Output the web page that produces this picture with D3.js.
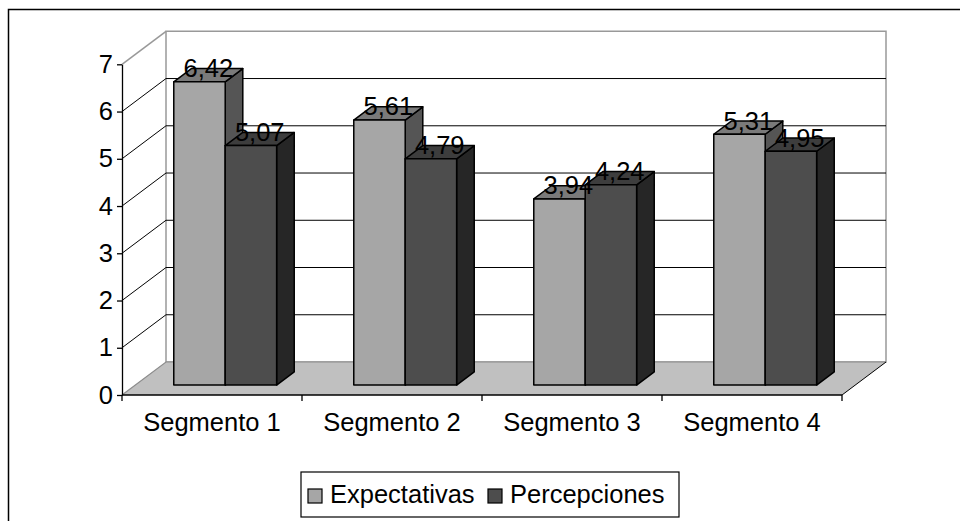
<!DOCTYPE html>
<html>
<head>
<meta charset="utf-8">
<script src="https://cdn.jsdelivr.net/npm/d3@7"></script>
<style>
  html, body { margin: 0; padding: 0; background: #fff; }
  svg text { font-family: "Liberation Sans", Arial, sans-serif; fill: #000; }
</style>
</head>
<body>
<svg id="chart" width="960" height="521"></svg>
<script>
// Chart data
const categories = ["Segmento 1", "Segmento 2", "Segmento 3", "Segmento 4"];
const seriesNames = ["Expectativas", "Percepciones"];
const expectativas = [6.42, 5.61, 3.94, 5.31];
const percepciones = [5.07, 4.79, 4.24, 4.95];
const yTicks = [0, 1, 2, 3, 4, 5, 6, 7];

const seriesValues = [expectativas, percepciones];
const fmt = v => d3.format(".2f")(v).replace(".", ",");
const fontSize = 25.5;

// Face colours per series: front, top, side
const faceColors = [
  { front: "#a6a6a6", top: "#7a7a7a", side: "#555555" },
  { front: "#4d4d4d", top: "#3d3d3d", side: "#262626" }
];

const svg = d3.select("#chart");

// Front plane of the plot and the depth vector of the 3D box
const x0 = 122, x1 = 842;
const y = d3.scaleLinear().domain([0, 7]).range([395, 64.3]);
const depth = { dx: 44, dy: -33 };
const barDepth = [0.3, 0.7];

const xCat = d3.scaleBand().domain(categories).range([x0, x1]).padding(0);
const xSeries = d3.scaleBand().domain(seriesNames)
  .range([0, xCat.bandwidth()]).paddingInner(0).paddingOuter(0.75);

// Project (screen x on front plane, value, depth fraction) to screen coords
const P = (x, v, d) => [x + d * depth.dx, y(v) + d * depth.dy];
const poly = pts => "M" + pts.map(p => p.join(",")).join("L") + "Z";

// Outer chart frame
svg.append("rect")
  .attr("x", 8.5).attr("y", 9.5).attr("width", 1000).attr("height", 600)
  .attr("fill", "none").attr("stroke", "#000").attr("stroke-width", 1.5);

const vMax = 7;
// Back wall
svg.append("path")
  .attr("d", poly([P(x0, 0, 1), P(x1, 0, 1), P(x1, vMax, 1), P(x0, vMax, 1)]))
  .attr("fill", "#fff").attr("stroke", "#999").attr("stroke-width", 1.5);

// Floor
svg.append("path")
  .attr("d", poly([P(x0, 0, 0), P(x1, 0, 0), P(x1, 0, 1), P(x0, 0, 1)]))
  .attr("fill", "#c0c0c0").attr("stroke", "none");
svg.append("path")
  .attr("d", "M" + P(x0, 0, 0) + "L" + P(x0, 0, 1) + "L" + P(x1, 0, 1))
  .attr("fill", "none").attr("stroke", "#8c8c8c").attr("stroke-width", 1.2);
svg.append("path")
  .attr("d", "M" + P(x1, 0, 0) + "L" + P(x1, 0, 1))
  .attr("fill", "none").attr("stroke", "#000").attr("stroke-width", 1);

// Gridlines on the left wall and the back wall
const grid = svg.append("g").attr("fill", "none");
yTicks.filter(t => t > 0 && t < vMax).forEach(t => {
  grid.append("path")
    .attr("d", "M" + P(x0, t, 0) + "L" + P(x0, t, 1) + "L" + P(x1, t, 1))
    .attr("stroke", "#000").attr("stroke-width", 1);
});
// Top edge of the left wall
svg.append("path")
  .attr("d", "M" + P(x0, vMax, 0) + "L" + P(x0, vMax, 1))
  .attr("fill", "none").attr("stroke", "#999").attr("stroke-width", 1.5);

// Value axis
const yAxis = svg.append("g")
  .attr("transform", `translate(${x0},0)`)
  .call(d3.axisLeft(y).tickValues(yTicks).tickFormat(d3.format("d"))
    .tickSize(5).tickSizeOuter(0).tickPadding(4));
yAxis.select(".domain").attr("stroke", "#000").attr("stroke-width", 1.3);
yAxis.selectAll(".tick line").attr("stroke", "#000").attr("stroke-width", 1.3);
yAxis.selectAll(".tick text")
  .attr("font-size", fontSize).attr("font-family", "Liberation Sans, Arial, sans-serif")
  .attr("fill", "#000");

// Category axis: baseline, boundary ticks, labels
const catAxis = svg.append("g");
catAxis.append("line")
  .attr("x1", x0).attr("x2", x1).attr("y1", y(0)).attr("y2", y(0))
  .attr("stroke", "#000").attr("stroke-width", 1.5);
const boundaries = categories.map(c => xCat(c)).concat([x1]);
catAxis.selectAll("line.tick").data(boundaries).join("line")
  .attr("class", "tick")
  .attr("x1", d => d).attr("x2", d => d)
  .attr("y1", y(0)).attr("y2", y(0) + 6)
  .attr("stroke", "#000").attr("stroke-width", 1.3);
catAxis.selectAll("text").data(categories).join("text")
  .attr("x", d => xCat(d) + xCat.bandwidth() / 2)
  .attr("y", 431)
  .attr("text-anchor", "middle")
  .attr("font-size", fontSize)
  .text(d => d);

// 3D bars, drawn left to right so front faces cover the neighbours' sides
const bars = [];
categories.forEach((c, i) => {
  seriesNames.forEach((s, j) => {
    const xl = xCat(c) + xSeries(s);
    bars.push({ xl, xr: xl + xSeries.bandwidth(), v: seriesValues[j][i], j });
  });
});
const [d0, d1] = barDepth;
const gBars = svg.append("g")
  .attr("stroke", "#000").attr("stroke-width", 1.5).attr("stroke-linejoin", "round");
bars.forEach(b => {
  const g = gBars.append("g");
  g.append("path")
    .attr("d", poly([P(b.xr, 0, d0), P(b.xr, 0, d1), P(b.xr, b.v, d1), P(b.xr, b.v, d0)]))
    .attr("fill", faceColors[b.j].side);
  g.append("path")
    .attr("d", poly([P(b.xl, b.v, d0), P(b.xr, b.v, d0), P(b.xr, b.v, d1), P(b.xl, b.v, d1)]))
    .attr("fill", faceColors[b.j].top);
  g.append("path")
    .attr("d", poly([P(b.xl, 0, d0), P(b.xr, 0, d0), P(b.xr, b.v, d0), P(b.xl, b.v, d0)]))
    .attr("fill", faceColors[b.j].front);
});

// Value labels above each bar
svg.append("g").selectAll("text").data(bars).join("text")
  .attr("x", b => P((b.xl + b.xr) / 2, b.v, (d0 + d1) / 2)[0])
  .attr("y", b => P((b.xl + b.xr) / 2, b.v, (d0 + d1) / 2)[1] + 2)
  .attr("text-anchor", "middle")
  .attr("font-size", fontSize)
  .text(b => fmt(b.v));

// Legend
const legend = svg.append("g");
legend.append("rect")
  .attr("x", 301).attr("y", 472).attr("width", 378).attr("height", 45)
  .attr("fill", "#fff").attr("stroke", "#000").attr("stroke-width", 1.2);
const legendX = [308, 488];
seriesNames.forEach((s, j) => {
  legend.append("rect")
    .attr("x", legendX[j]).attr("y", 489).attr("width", 14).attr("height", 14)
    .attr("fill", faceColors[j].front).attr("stroke", "#000").attr("stroke-width", 1.2);
  legend.append("text")
    .attr("x", legendX[j] + 22).attr("y", 503)
    .attr("font-size", fontSize)
    .text(s);
});
</script>
</body>
</html>
